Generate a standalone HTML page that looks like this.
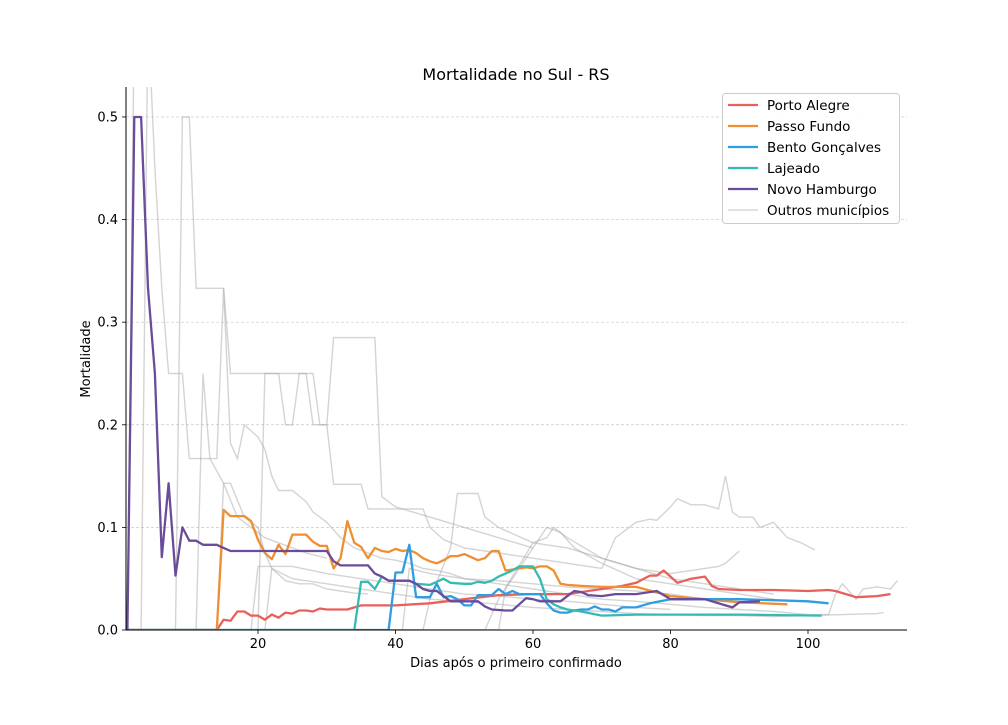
<!DOCTYPE html>
<html><head><meta charset="utf-8"><style>
body{margin:0;background:#fff;}
svg text{font-family:"DejaVu Sans","Liberation Sans",sans-serif;fill:#000;}
</style></head><body>
<svg id="chart" width="1008" height="720" viewBox="0 0 1008 720" xmlns="http://www.w3.org/2000/svg">
<rect width="1008" height="720" fill="#fff"/>
<defs><clipPath id="plotclip"><rect x="126" y="87" width="781" height="543"/></clipPath></defs>
<text x="516" y="80" font-size="16" text-anchor="middle">Mortalidade no Sul - RS</text>
<g id="grid"></g>
<g id="gray" clip-path="url(#plotclip)"></g>
<g id="series" clip-path="url(#plotclip)"></g>
<g id="axes"></g>
<text transform="translate(90,359) rotate(-90)" font-size="13" text-anchor="middle">Mortalidade</text>
<text x="516" y="667" font-size="13" text-anchor="middle">Dias após o primeiro confirmado</text>
<g id="legend"></g>
</svg>
<script>
const xTicks=[20,40,60,80,100];
const yTicks=[0.0,0.1,0.2,0.3,0.4,0.5];
const seriesNames=["Porto Alegre","Passo Fundo","Bento Gonçalves","Lajeado","Novo Hamburgo"];
const seriesColors=["#e8605a","#ef8f32","#2f9de2","#36bab6","#6a4c9a"];
const paDays=[1,14,15,16,17,18,19,20,21,22,23,24,25,26,27,28,29,30,33,35,40,45,50,55,60,65,70,73,75,77,78,79,80,81,83,85,86,87,90,95,100,103,104,107,110,112];
const paVals=[0,0,0.01,0.009,0.018,0.018,0.014,0.014,0.01,0.015,0.012,0.017,0.016,0.019,0.019,0.018,0.021,0.02,0.02,0.024,0.024,0.026,0.03,0.034,0.035,0.035,0.04,0.043,0.046,0.053,0.053,0.058,0.052,0.046,0.05,0.052,0.043,0.04,0.039,0.039,0.038,0.039,0.038,0.032,0.033,0.035];
const pfDays=[1,14,15,16,17,18,19,20,21,22,23,24,25,26,27,28,29,30,31,32,33,34,35,36,37,38,39,40,41,42,43,44,45,46,47,48,49,50,51,52,53,54,55,56,57,58,59,60,61,62,63,64,65,67,70,75,80,85,90,97];
const pfVals=[0,0,0.117,0.111,0.111,0.111,0.106,0.088,0.075,0.069,0.083,0.074,0.093,0.093,0.093,0.086,0.082,0.082,0.06,0.07,0.106,0.085,0.081,0.07,0.08,0.077,0.076,0.079,0.077,0.078,0.075,0.07,0.067,0.065,0.068,0.072,0.072,0.074,0.071,0.068,0.07,0.077,0.077,0.058,0.059,0.06,0.061,0.06,0.062,0.062,0.058,0.045,0.044,0.043,0.042,0.042,0.033,0.03,0.027,0.025];
const bgDays=[1,39,40,41,42,43,44,45,46,47,48,49,50,51,52,53,54,55,56,57,58,59,60,61,62,63,64,65,66,67,68,69,70,71,72,73,75,77,80,85,90,95,100,103];
const bgVals=[0,0,0.056,0.056,0.083,0.032,0.032,0.032,0.045,0.032,0.033,0.03,0.024,0.024,0.034,0.034,0.034,0.04,0.035,0.038,0.035,0.035,0.035,0.035,0.026,0.019,0.017,0.017,0.019,0.02,0.02,0.023,0.02,0.02,0.018,0.022,0.022,0.026,0.03,0.03,0.03,0.029,0.028,0.026];
const ljDays=[1,34,35,36,37,38,39,42,43,45,46,47,48,50,51,52,53,54,55,56,57,58,60,61,62,63,64,65,67,70,75,80,90,102];
const ljVals=[0,0,0.047,0.047,0.04,0.052,0.048,0.048,0.045,0.044,0.047,0.05,0.046,0.045,0.045,0.047,0.046,0.048,0.052,0.055,0.058,0.062,0.062,0.05,0.03,0.025,0.022,0.02,0.018,0.014,0.015,0.015,0.015,0.014];
const nhDays=[1,2,3,4,5,6,7,8,9,10,11,12,14,15,16,30,31,32,36,37,38,39,42,43,44,45,46,47,48,52,53,54,56,57,58,59,60,61,64,65,66,67,68,70,72,75,78,80,85,88,89,90,93];
const nhVals=[0,0.5,0.5,0.333,0.25,0.071,0.143,0.053,0.1,0.087,0.087,0.083,0.083,0.08,0.077,0.077,0.067,0.063,0.063,0.055,0.052,0.048,0.048,0.045,0.04,0.038,0.038,0.033,0.028,0.028,0.023,0.02,0.019,0.019,0.025,0.031,0.03,0.028,0.028,0.033,0.038,0.037,0.034,0.033,0.035,0.035,0.038,0.03,0.03,0.024,0.022,0.027,0.028];
const otherDays=[
[1,2],
[1,3,4,5,6,7,9,10,11,14,15,16,17,18,20,21,22,23,25,27,28,30,32,34,36,38,40,42,44,46,48,50,52,55,58,60],
[1,8,9,10,11,15,16,28,29,30,31,35,36,40,44,45,47,50,55,60,65,70],
[1,11,12,13,15,17,19,21,23,25,27,30],
[1,19,20,21,23,24,25,26,27,28,30,31,37,38,40,45,50,55,60],
[1,19,20,25,30,35,40,45,50,55,60,65,70,75,80],
[1,21,22,25,30,35,40,45,48,49,52,53,55,60,65,70,75,80,85,90,95],
[70,72,75,77,78,80,81,83,85,87,88,89,90,92,93,95,97,99,101],
[1,53,55,60,62,63,65,70,75,80,85,87,88,90],
[60,65,70,75,80,85,90,95,100,103,104,105,107,108,110,112,113],
[1,44,45,50,55,60,65,70,75,80,85,90,95,100,105,110,111],
[1,41,42,45,50,55,60,65,70,75,80,85,90,95],
[1,50,55,56,60,62,64,66,70,75,80,85,90,95],
[1,14,15,16,18,20,21,22,24,26,28,30,32,34,36]
];
const otherVals=[
[0,0.6],
[0,0,0.6,0.45,0.333,0.25,0.25,0.167,0.167,0.167,0.333,0.182,0.167,0.2,0.188,0.176,0.15,0.136,0.136,0.125,0.115,0.105,0.09,0.08,0.075,0.07,0.068,0.065,0.06,0.058,0.055,0.05,0.048,0.045,0.042,0.04],
[0,0,0.5,0.5,0.333,0.333,0.25,0.25,0.2,0.2,0.142,0.142,0.118,0.118,0.118,0.1,0.088,0.08,0.075,0.07,0.065,0.06],
[0,0,0.25,0.167,0.143,0.11,0.1,0.09,0.085,0.08,0.075,0.07],
[0,0,0,0.25,0.25,0.2,0.2,0.25,0.25,0.2,0.2,0.285,0.285,0.13,0.12,0.11,0.1,0.09,0.08],
[0,0,0.062,0.062,0.055,0.05,0.045,0.04,0.035,0.033,0.03,0.028,0.025,0.022,0.02],
[0,0,0.06,0.05,0.045,0.04,0.035,0.03,0.08,0.133,0.133,0.11,0.1,0.085,0.08,0.07,0.06,0.05,0.045,0.04,0.035],
[0.06,0.09,0.105,0.108,0.107,0.12,0.128,0.122,0.122,0.118,0.15,0.115,0.11,0.11,0.1,0.105,0.09,0.085,0.078],
[0,0,0.03,0.085,0.09,0.1,0.09,0.07,0.06,0.055,0.06,0.062,0.065,0.077],
[0.04,0.035,0.03,0.028,0.025,0.022,0.02,0.018,0.015,0.015,0.035,0.045,0.03,0.04,0.042,0.04,0.048],
[0,0,0.03,0.028,0.025,0.022,0.02,0.018,0.016,0.015,0.014,0.014,0.013,0.014,0.015,0.016,0.017],
[0,0,0.06,0.055,0.05,0.048,0.045,0.042,0.04,0.038,0.035,0.03,0.028,0.025],
[0,0,0,0.04,0.08,0.1,0.095,0.08,0.065,0.05,0.045,0.04,0.035,0.03],
[0,0,0.143,0.143,0.11,0.1,0.075,0.06,0.048,0.045,0.045,0.04,0.038,0.036,0.035]
];
const NS="http://www.w3.org/2000/svg";
const X0=126,X1=907,Y0=87,Y1=630,DMIN=0.8,DMAX=114.4,VMAX=0.5292;
function xs(d){return X0+(d-DMIN)/(DMAX-DMIN)*(X1-X0);}
function ys(v){return Y1-v/VMAX*(Y1-Y0);}
function mk(tag,attrs,parent){const e=document.createElementNS(NS,tag);for(const k in attrs)e.setAttribute(k,attrs[k]);parent.appendChild(e);return e;}
const grid=document.getElementById('grid'),axes=document.getElementById('axes');
yTicks.forEach(t=>{
  const y=ys(t);
  if(t>0){const g=mk('line',{x1:X0,x2:X1,y1:y,y2:y,stroke:'#c8c8c8','stroke-width':0.7,'stroke-dasharray':'3,2'},grid);
  
  }
  mk('line',{x1:X0-4,x2:X0,y1:y,y2:y,stroke:'#000','stroke-width':0.8},axes);
  const tx=mk('text',{x:X0-8,y:y+4.5,'font-size':13,'text-anchor':'end'},axes);
  tx.textContent=t.toFixed(1);
  
  
});
xTicks.forEach(t=>{
  const x=xs(t);
  mk('line',{x1:x,x2:x,y1:Y1,y2:Y1+4,stroke:'#000','stroke-width':0.8},axes);
  const tx=mk('text',{x:x,y:Y1+18,'font-size':13,'text-anchor':'middle'},axes);
  tx.textContent=t;
  
  
});
const ax1=mk('line',{x1:X0,x2:X0,y1:Y0,y2:Y1,stroke:'#000','stroke-width':1},axes);


const ax2=mk('line',{x1:X0,x2:X1,y1:Y1,y2:Y1,stroke:'#000','stroke-width':1},axes);


function pts(ds,vs){return ds.map((d,i)=>xs(d).toFixed(1)+','+ys(vs[i]).toFixed(1)).join(' ');}
const grayG=document.getElementById('gray');
otherDays.forEach((ds,i)=>{
  const p=mk('polyline',{points:pts(ds,otherVals[i]),fill:'none',stroke:'#aaa','stroke-opacity':0.5,'stroke-width':1.4},grayG);
  
  
});
const sD=[paDays,pfDays,bgDays,ljDays,nhDays],sV=[paVals,pfVals,bgVals,ljVals,nhVals];
const sG=document.getElementById('series');
const slugs=['porto-alegre-line','passo-fundo-line','bento-goncalves-line','lajeado-line','novo-hamburgo-line'];
sD.forEach((ds,i)=>{
  const p=mk('polyline',{points:pts(ds,sV[i]),fill:'none',stroke:seriesColors[i],'stroke-width':2.3,'stroke-linejoin':'round'},sG);
  
  
});
const lg=document.getElementById('legend');
const lb=mk('rect',{x:722.5,y:93.5,width:177,height:130,fill:'#fff','fill-opacity':0.85,stroke:'#ccc',rx:3},lg);


const lnames=seriesNames.concat(['Outros municípios']);
const lcols=seriesColors.concat(['#d8d8d8']);
lnames.forEach((n,i)=>{
  const y=105+i*21;
  const l=mk('line',{x1:728,x2:758,y1:y,y2:y,stroke:lcols[i],'stroke-width':i<5?2.3:1.5},lg);
  
  
  const t=mk('text',{x:767,y:y+5,'font-size':13.5},lg);
  t.textContent=n;
  
  
});
</script>
</body></html>
